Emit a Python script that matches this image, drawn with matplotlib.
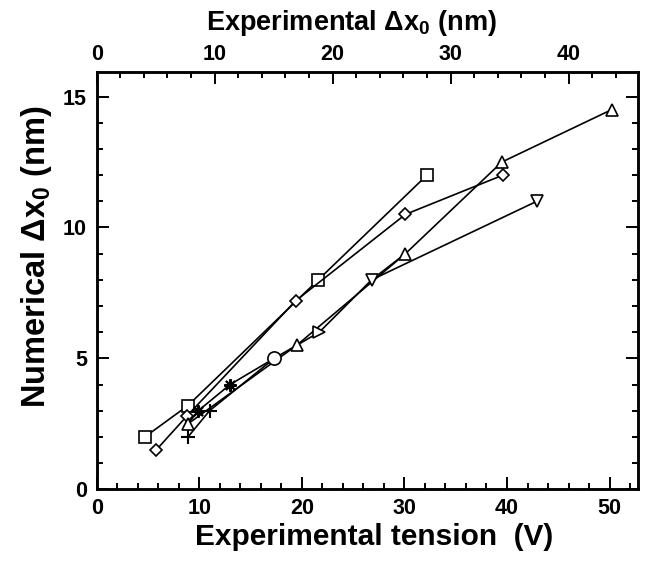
import matplotlib
matplotlib.use("Agg")
import matplotlib.pyplot as plt
from matplotlib.ticker import MultipleLocator

plt.rcParams['font.family'] = ['Liberation Sans', 'DejaVu Sans']
plt.rcParams['font.weight'] = 'bold'
plt.rcParams['mathtext.fontset'] = 'custom'
plt.rcParams['mathtext.rm'] = 'Liberation Sans:bold'
plt.rcParams['mathtext.bf'] = 'Liberation Sans:bold'

# Data (Experimental tension V, Numerical dx0 nm)
sq_x = [4.7, 8.9, 21.6, 32.2]
sq_y = [2.0, 3.2, 8.0, 12.0]

di_x = [5.8, 8.8, 19.4, 30.1, 39.6]
di_y = [1.5, 2.8, 7.2, 10.5, 12.0]

tri_x = [8.9, 19.5, 30.1, 39.5, 50.2]
tri_y = [2.5, 5.5, 9.0, 12.5, 14.5]

plus_x = [8.9, 11.0]
plus_y = [2.0, 3.0]

ast_x = [9.9, 13.0]
ast_y = [3.0, 4.0]

circ_x = [17.3]
circ_y = [5.0]

rtri_x = [21.7]
rtri_y = [6.0]

dtri_x = [26.8, 42.9]
dtri_y = [8.0, 11.0]

# connecting chains
chainA_x = [8.9, 11.0, 17.3, 19.5, 21.7, 26.8, 30.1]
chainA_y = [2.0, 3.0, 5.0, 5.5, 6.0, 8.0, 9.0]
chainB_x = [8.9, 9.9, 13.0, 17.3]
chainB_y = [2.5, 3.0, 4.0, 5.0]

fig = plt.figure(figsize=(6.51, 5.61), dpi=100)
ax = fig.add_axes([0.1485, 0.1278, 0.832, 0.7444])

lw = 1.2
mew = 1.2
ms = 8
kw = dict(color='black', lw=lw, mfc='white', mec='black', mew=mew, zorder=3)

ax.plot(chainA_x, chainA_y, color='black', lw=lw, zorder=2)
ax.plot(chainB_x, chainB_y, color='black', lw=lw, zorder=2)
ax.plot(sq_x, sq_y, marker='s', ms=ms, **kw)
ax.plot(di_x, di_y, marker='D', ms=ms - 1.5, **kw)
ax.plot(tri_x, tri_y, marker='^', ms=ms + 1, **kw)
ax.plot(dtri_x, dtri_y, marker='v', ms=ms + 1, **kw)
ax.plot(rtri_x, rtri_y, marker='>', ms=ms + 1, ls='none', color='black', mfc='white', mec='black', mew=mew, zorder=3)
ax.plot(circ_x, circ_y, marker='o', ms=ms + 1.5, ls='none', color='black', mfc='white', mec='black', mew=mew, zorder=3)
ax.plot(plus_x, plus_y, marker='+', ms=ms + 2, ls='none', color='black', mew=mew + 0.3, zorder=3)
ax.plot(ast_x, ast_y, marker=(8, 2, 0), ms=ms + 1, ls='none', color='black', mew=mew + 0.3, zorder=3)

ax.set_xlim(0, 52.8)
ax.set_ylim(0, 15.95)
ax.xaxis.set_major_locator(MultipleLocator(10))
ax.xaxis.set_minor_locator(MultipleLocator(2))
ax.yaxis.set_major_locator(MultipleLocator(5))
ax.yaxis.set_minor_locator(MultipleLocator(1))

for s in ax.spines.values():
    s.set_linewidth(1.8)

ax.tick_params(which='both', direction='in', width=1.4, right=True, labelsize=15.5)
ax.tick_params(which='major', length=8.6)
ax.tick_params(which='minor', length=4.3)
ax.tick_params(axis='x', pad=6)
ax.tick_params(axis='y', pad=7)

ax.set_xlabel('Experimental tension  (V)', fontsize=21.5, fontweight='bold')
ax.xaxis.set_label_coords(0.512, -0.08)
ax.set_ylabel(r'Numerical $\Delta$x$_\mathbf{0}$ (nm)', fontsize=23.5, fontweight='bold')
ax.yaxis.set_label_coords(-0.079, 0.556)

top = ax.twiny()
top.set_xlim(0, 45.9)
top.xaxis.set_major_locator(MultipleLocator(10))
top.xaxis.set_minor_locator(MultipleLocator(2))
top.tick_params(which='both', direction='in', width=1.4, labelsize=15.5, pad=5)
top.tick_params(which='major', length=8.6)
top.tick_params(which='minor', length=4.3)
top.set_xlabel(r'Experimental $\Delta$x$_\mathbf{0}$ (nm)', fontsize=19.5, fontweight='bold')
top.xaxis.set_label_coords(0.47, 1.10)
for s in top.spines.values():
    s.set_linewidth(1.8)

fig.savefig('out.png', dpi=100)
